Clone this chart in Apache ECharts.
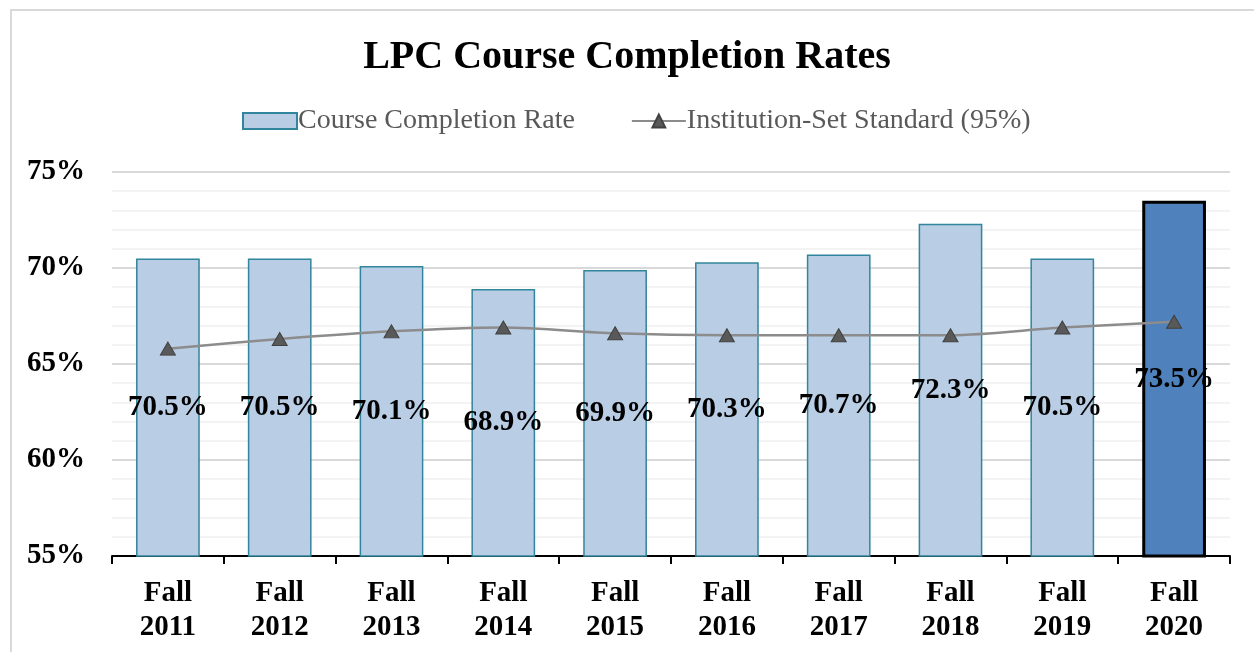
<!DOCTYPE html>
<html>
<head>
<meta charset="utf-8">
<script src="https://cdn.jsdelivr.net/npm/echarts@6/dist/echarts.min.js"></script>
<style>
  html, body { margin: 0; padding: 0; background: #fff; }
  #main { width: 1254px; height: 652px; }
</style>
</head>
<body>
<div id="main"></div>
<script>
var categories = ["Fall\n2011", "Fall\n2012", "Fall\n2013", "Fall\n2014", "Fall\n2015",
  "Fall\n2016", "Fall\n2017", "Fall\n2018", "Fall\n2019", "Fall\n2020"];
var completionRate = [70.5, 70.5, 70.1, 68.9, 69.9, 70.3, 70.7, 72.3, 70.5, 73.5];
var setStandard = [65.8, 66.3, 66.7, 66.9, 66.6, 66.5, 66.5, 66.5, 66.9, 67.2];
var yTicks = [55, 60, 65, 70, 75];

var serif = "Liberation Serif";
var chartDom = document.getElementById("main");
var myChart = echarts.init(chartDom);

// last year gets the dark highlighted bar
var barData = completionRate.map(function (v, i) {
  if (i === completionRate.length - 1) {
    return { value: v, itemStyle: { color: "#4f81bd", borderColor: "#000", borderWidth: 3 } };
  }
  return v;
});

var option = {
  backgroundColor: "#fff",
  animation: false,
  graphic: [
    {
      type: "rect",
      shape: { x: 11, y: 10, width: 1300, height: 700 },
      style: { fill: "none", stroke: "#d9d9d9", lineWidth: 2 },
      z: -1,
    },
  ],
  title: {
    text: "LPC Course Completion Rates",
    left: "center",
    top: 33,
    textStyle: { fontFamily: serif, fontWeight: "bold", fontSize: 40, color: "#000" },
  },
  legend: {
    top: 102,
    left: 237,
    itemWidth: 54,
    itemHeight: 16,
    itemGap: 56,
    textStyle: { fontFamily: serif, fontSize: 28, color: "#595959", padding: [0, 0, 0, -4] },
    data: [
      { name: "Course Completion Rate", icon: "rect" },
      { name: "Institution-Set Standard (95%)" },
    ],
  },
  grid: { left: 112, right: 24, top: 172, bottom: 96 },
  xAxis: {
    type: "category",
    data: categories,
    axisLine: { lineStyle: { color: "#000", width: 2 } },
    axisTick: { show: true, length: 8, lineStyle: { color: "#000", width: 2 } },
    axisLabel: {
      margin: 21,
      fontFamily: serif,
      fontWeight: "bold",
      fontSize: 29,
      lineHeight: 34,
      color: "#000",
    },
  },
  yAxis: {
    type: "value",
    min: yTicks[0],
    max: yTicks[yTicks.length - 1],
    interval: 5,
    axisLine: { show: false },
    axisTick: { show: false },
    axisLabel: {
      margin: 27,
      fontFamily: serif,
      fontWeight: "bold",
      fontSize: 29,
      color: "#000",
      formatter: "{value}%",
    },
    splitLine: { lineStyle: { color: "#d9d9d9", width: 2 } },
    minorTick: { show: false, splitNumber: 5 },
    minorSplitLine: { show: true, lineStyle: { color: "#f0f0f0", width: 1.5 } },
  },
  series: [
    {
      name: "Course Completion Rate",
      type: "bar",
      data: barData,
      barWidth: "57%",
      itemStyle: { color: "#b9cde5", borderColor: "#31859c", borderWidth: 1.5 },
      label: {
        show: true,
        position: "inside",
        fontFamily: serif,
        fontWeight: "bold",
        fontSize: 29,
        color: "#000",
        formatter: function (p) {
          return p.value.toFixed(1) + "%";
        },
      },
      z: 2,
    },
    {
      name: "Institution-Set Standard (95%)",
      type: "line",
      data: setStandard,
      smooth: 0.3,
      symbol: "triangle",
      symbolSize: [15, 13],
      lineStyle: { color: "#8c8c8c", width: 2.5 },
      itemStyle: { color: "#595959", borderColor: "#404040", borderWidth: 1 },
      z: 3,
    },
  ],
};

option && myChart.setOption(option);
</script>
</body>
</html>
